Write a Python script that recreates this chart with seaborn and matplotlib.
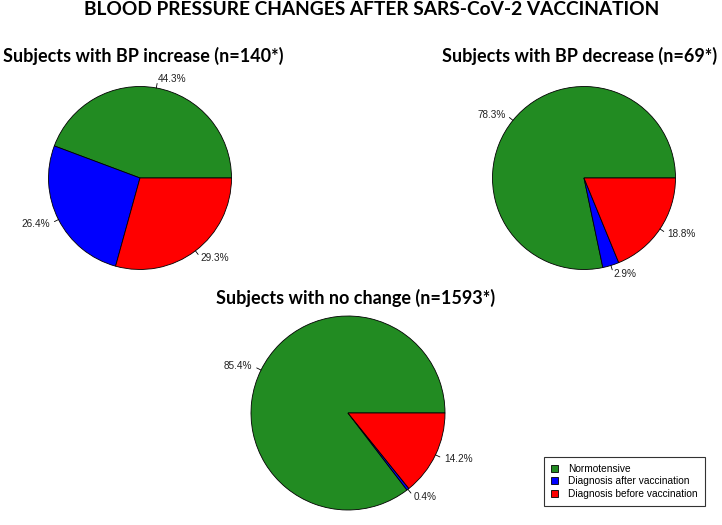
import numpy as np
import matplotlib
matplotlib.use("Agg")
import matplotlib.pyplot as plt
import matplotlib.patches as mpatches
import seaborn as sns

# data
categories = ["Normotensive", "Diagnosis after vaccination", "Diagnosis before vaccination"]
colors = ["#228B22", "#0000FF", "#FF0000"]

increase_pct = [44.3, 26.4, 29.3]
decrease_pct = [78.3, 2.9, 18.8]
nochange_pct = [85.4, 0.4, 14.2]

titles = ["Subjects with BP increase (n=140*)",
          "Subjects with BP decrease (n=69*)",
          "Subjects with no change (n=1593*)"]
main_title = "BLOOD PRESSURE CHANGES AFTER SARS-CoV-2 VACCINATION"

W, H = 722, 525


def set_style():
    sns.set_theme(style="white")
    plt.rcParams["font.family"] = ["Liberation Sans", "DejaVu Sans"]
    plt.rcParams["text.color"] = "black"


def pie_axes(fig, cx, cy, r):
    # square axes where one data unit equals r pixels
    half = 1.5 * r
    ax = fig.add_axes([(cx - half) / W, (H - cy - half) / H, 2 * half / W, 2 * half / H])
    return ax


def draw_pie(ax, values):
    wedges, _ = ax.pie(values, colors=colors, startangle=0, counterclock=True,
                       wedgeprops=dict(edgecolor="black", linewidth=0.6))
    for w, v in zip(wedges, values):
        ang = np.deg2rad((w.theta1 + w.theta2) / 2)
        c, s = np.cos(ang), np.sin(ang)
        ax.plot([c, 1.05 * c], [s, 1.05 * s], color="black", lw=0.6, clip_on=False)
        ax.text(1.1 * c, 1.1 * s, f"{v:.1f}%", ha="left" if c > 0 else "right",
                va="center", fontsize=7.2, color="#222222")
    ax.set_xlim(-1.5, 1.5)
    ax.set_ylim(-1.5, 1.5)
    ax.set_aspect("equal")
    ax.axis("off")


set_style()
fig = plt.figure(figsize=(W / 100, H / 100), dpi=100)

layout = [(140, 178, 91.5), (584, 178, 91.5), (348, 413, 97)]
for (cx, cy, r), vals in zip(layout, [increase_pct, decrease_pct, nochange_pct]):
    draw_pie(pie_axes(fig, cx, cy, r), vals)

tfont = ["Lato", "DejaVu Sans"]
fig.text(372 / W, 1 - 15 / H, main_title, ha="center", va="baseline",
         fontsize=13.8, fontweight="bold", family=tfont, color="black")
for (x, y), t in zip([(143, 62), (580, 62), (356, 304)], titles):
    fig.text(x / W, 1 - y / H, t, ha="center", va="baseline",
             fontsize=13, fontweight="bold", family=tfont, color="black")

handles = [mpatches.Patch(facecolor=c, edgecolor="black", linewidth=0.6, label=l)
           for c, l in zip(colors, categories)]
leg = fig.legend(handles=handles, loc="lower right", bbox_to_anchor=(705 / W, 1 - 506 / H),
                 fontsize=7.3, frameon=True, fancybox=False, edgecolor="black",
                 handlelength=0.7, handleheight=0.7, handletextpad=1.0,
                 labelspacing=0.25, borderpad=0.7, borderaxespad=0)
leg.get_frame().set_linewidth(0.8)

fig.savefig("out.png", dpi=100, facecolor="white")
